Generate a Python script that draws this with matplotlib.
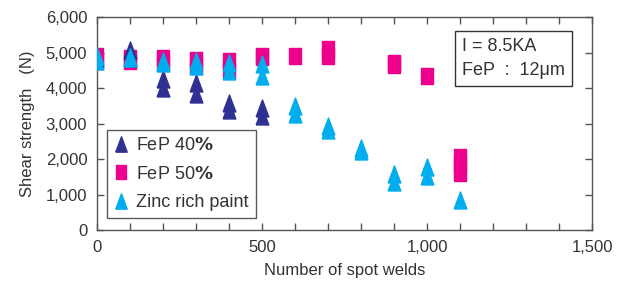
import matplotlib.pyplot as plt
from matplotlib.lines import Line2D

plt.rcParams['font.family'] = ['Liberation Sans', 'DejaVu Sans']

# FeP 40% (dark triangles)
fep40_x = [0, 100, 100, 200, 200, 300, 300, 400, 400, 500, 500]
fep40_y = [4850, 5090, 4850, 4250, 4000, 4150, 3830, 3585, 3375, 3440, 3215]

# FeP 50% (pink rectangles)
fep50_x = [0, 0, 100, 100, 200, 200, 300, 300, 400, 400, 500, 500, 600,
           700, 700, 900, 900, 1000, 1100, 1100, 1100]
fep50_y = [4915, 4775, 4860, 4775, 4860, 4725, 4810, 4630, 4780, 4510, 4920, 4890, 4920,
           5110, 4915, 4715, 4660, 4350, 2055, 1830, 1600]

# Zinc rich paint (cyan triangles)
zinc_x = [0, 0, 100, 100, 200, 200, 300, 300, 400, 400, 500, 500, 600, 600,
          700, 700, 800, 800, 900, 900, 1000, 1000, 1100]
zinc_y = [4905, 4775, 4870, 4850, 4780, 4725, 4780, 4630, 4715, 4490, 4690, 4350, 3490, 3265,
          2925, 2810, 2310, 2225, 1580, 1355, 1790, 1515, 835]

c40 = '#2e3192'
c50 = '#ec008c'
czn = '#00aeef'

tri = [(-0.75, -1), (0.75, -1), (0, 1), (-0.75, -1)]
rect = [(-0.7, -1), (0.7, -1), (0.7, 1), (-0.7, 1), (-0.7, -1)]

fig = plt.figure(figsize=(6.29, 2.92), dpi=100)
ax = fig.add_axes([0.1542, 0.2123, 0.787, 0.728])

ax.plot(fep50_x, fep50_y, ls='none', marker=rect, ms=12.2, color=c50, mec=c50, zorder=2)
ax.plot(fep40_x, fep40_y, ls='none', marker=tri, ms=12.2, color=c40, mec=c40, zorder=3)
ax.plot(zinc_x, zinc_y, ls='none', marker=tri, ms=12.2, color=czn, mec=czn, zorder=4)

ax.set_xlim(0, 1500)
ax.set_ylim(0, 6000)
ax.set_xticks(range(0, 1501, 500))
ax.set_xticks(range(0, 1501, 100), minor=True)
ax.set_yticks(range(0, 6001, 1000))
ax.set_xticklabels(['0', '500', '1,000', '1,500'])
ax.set_yticklabels(['0', '1,000', '2,000', '3,000', '4,000', '5,000', '6,000'])
ax.tick_params(which='both', direction='in', top=True, right=True, length=5,
               width=1, color='#555555', labelsize=12, labelcolor='#333333', pad=7)
for s in ax.spines.values():
    s.set_color('#555555')
    s.set_linewidth(1)

ax.set_xlabel('Number of spot welds', fontsize=12, color='#333333', labelpad=6)
ax.set_ylabel('Shear strength   (N)', fontsize=12, color='#333333', labelpad=8)

handles = [
    Line2D([], [], ls='none', marker=tri, ms=11, color=c40),
    Line2D([], [], ls='none', marker=rect, ms=10.5, color=c50),
    Line2D([], [], ls='none', marker=tri, ms=11, color=czn),
]
labels = [r'FeP 40$\mathbf{\%}$', r'FeP 50$\mathbf{\%}$', 'Zinc rich paint']
leg = ax.legend(handles, labels, loc='lower left', bbox_to_anchor=(0.02, 0.056),
                frameon=True, fancybox=False, fontsize=13, handlelength=0.8,
                handletextpad=0.4, borderpad=0.4, labelspacing=0.62, borderaxespad=0)
leg.get_frame().set_edgecolor('#333333')
leg.get_frame().set_linewidth(1)
for t in leg.get_texts():
    t.set_color('#333333')

ax.text(0.737, 0.905, 'I = 8.5KA\nFeP  :  12\u03bcm', transform=ax.transAxes,
        ha='left', va='top', fontsize=13, color='#333333', linespacing=1.6,
        bbox=dict(boxstyle='square,pad=0.38', fc='white', ec='#333333', lw=1))

fig.savefig('out.png', dpi=100)
